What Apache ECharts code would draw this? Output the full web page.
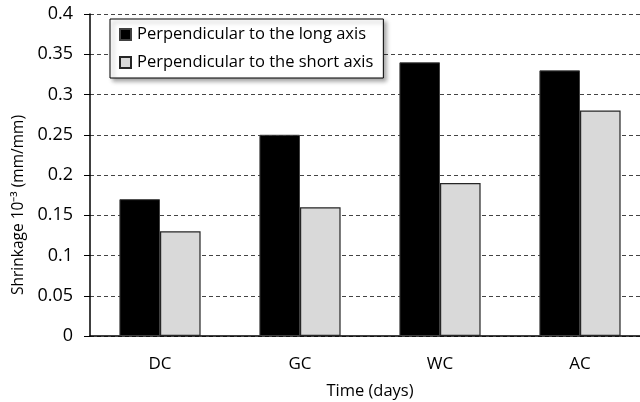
<!DOCTYPE html>
<html>
<head>
<meta charset="utf-8">
<script src="https://cdn.jsdelivr.net/npm/echarts@6/dist/echarts.min.js"></script>
<style>
html,body{margin:0;padding:0;background:#fff;}
#c{width:640px;height:402px;}
</style>
</head>
<body>
<div id="c"></div>
<script>
const categories = ["DC", "GC", "WC", "AC"];
const longAxis = [0.17, 0.25, 0.34, 0.33];
const shortAxis = [0.13, 0.16, 0.19, 0.28];
const seriesNames = ["Perpendicular to the long axis", "Perpendicular to the short axis"];
const yTicks = [0, 0.05, 0.1, 0.15, 0.2, 0.25, 0.3, 0.35, 0.4];

const FONT = "Open Sans";
const chart = echarts.init(document.getElementById('c'), null, {renderer: 'canvas'});
chart.setOption({
  animation: false,
  backgroundColor: '#fff',
  textStyle: {fontFamily: FONT},
  grid: {left: 90, top: 14, width: 560, bottom: 66, containLabel: false, outerBoundsMode: 'none'},
  legend: {
    left: 110, top: 19, orient: 'vertical',
    itemWidth: 11, itemHeight: 11, itemGap: 11,
    padding: [7, 10, 7, 9],
    backgroundColor: '#fff', borderColor: '#000', borderWidth: 1,
    shadowColor: 'rgba(0,0,0,0.35)', shadowBlur: 4, shadowOffsetX: 3, shadowOffsetY: 3,
    textStyle: {fontSize: 16.5, color: '#000', fontFamily: FONT, padding: [0,0,0,1]},
    icon: 'rect',
    data: seriesNames
  },
  xAxis: {
    type: 'category', data: categories,
    name: 'Time (days)', nameLocation: 'middle', nameGap: 47,
    nameTextStyle: {fontSize: 16.5, color: '#000'},
    axisLine: {lineStyle: {color: '#000', width: 1.5}},
    axisTick: {show: false},
    axisLabel: {fontSize: 17, color: '#000', margin: 20}
  },
  yAxis: {
    type: 'value', min: 0, max: 0.4, interval: 0.05,
    name: 'Shrinkage 10\u207B\u00B3 (mm/mm)', nameLocation: 'middle', nameGap: 61,
    nameTextStyle: {fontSize: 15.5, color: '#000', padding: [0, 60, 0, 0]},
    axisLine: {show: true, lineStyle: {color: '#000', width: 1.5}},
    axisTick: {show: true, length: 6, lineStyle: {color: '#000'}},
    axisLabel: {fontSize: 18, color: '#000', margin: 17,
      formatter: v => { const t = yTicks.find(x => Math.abs(x - v) < 1e-9); return String(t !== undefined ? t : v); }},
    splitLine: {show: true, lineStyle: {color: '#444', type: [4, 3], width: 1}}
  },
  series: [
    {name: seriesNames[0], type: 'bar', data: longAxis, barGap: '0%', barCategoryGap: '42%',
     itemStyle: {color: '#000', borderColor: '#404040', borderWidth: 1}},
    {name: seriesNames[1], type: 'bar', data: shortAxis, barGap: '0%', barCategoryGap: '42%',
     itemStyle: {color: '#d9d9d9', borderColor: '#262626', borderWidth: 1.2}}
  ]
});
</script>
</body>
</html>
